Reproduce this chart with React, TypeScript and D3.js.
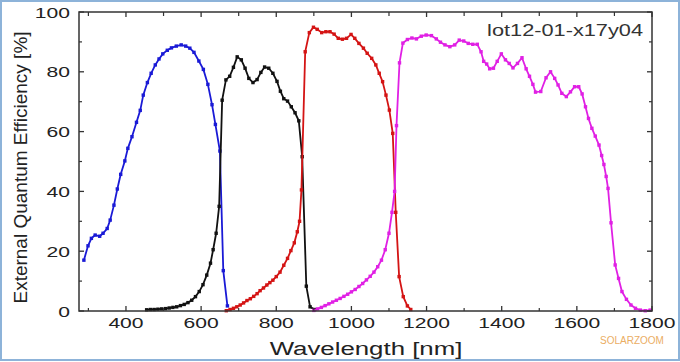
import React from "react";
import * as d3 from "d3";

// [wavelength nm, EQE %]
const blueSeries: [number, number][] = [
  [288, 17], [299, 21.8], [308, 24.3], [318, 25.4], [330, 25], [339, 26], [350, 27.6],
  [358, 30.4], [368, 35.4], [377, 40.8], [386, 45.7], [397, 50.2], [405, 54.4], [416, 58.3],
  [428, 63.1], [438, 67.1], [446, 72.2], [457, 76.4], [467, 79.5], [478, 82.3], [488, 84.3],
  [498, 86], [510, 87.2], [521, 88], [534, 88.6], [547, 89], [559, 88.6], [570, 87.9],
  [581, 86.5], [594, 83.6], [606, 80.8], [618, 75.8], [629, 69], [638, 62.4], [650, 53.5],
  [659, 13.5], [670, 1.7],
];

const blackSeries: [number, number][] = [
  [455, 0.4], [465, 0.5], [475, 0.5], [485, 0.6], [495, 0.7], [505, 0.8], [515, 1.0],
  [525, 1.2], [535, 1.4], [545, 1.8], [555, 2.2], [565, 2.8], [575, 3.6], [585, 4.8],
  [595, 6.5], [605, 8.8], [615, 12], [625, 16], [632, 20.5], [640, 26], [648, 35],
  [656, 70.5], [666, 77.3], [676, 78.5], [686, 81.5], [696, 85], [707, 84], [717, 81.2],
  [727, 77.8], [738, 76.4], [749, 77.4], [759, 79.8], [769, 81.6], [780, 81.2], [791, 79.5],
  [802, 76.8], [811, 73.5], [820, 71], [830, 70.2], [840, 68.3], [850, 66.3], [860, 63.6],
  [869, 51.6], [880, 8.3], [890, 1.4], [902, 0.5],
];

const redSeries: [number, number][] = [
  [667, 0.1], [677, 0.5], [686, 0.9], [695, 1.4], [704, 2], [713, 2.7], [722, 3.5],
  [731, 4.1], [740, 4.9], [749, 5.8], [757, 6.8], [766, 7.7], [775, 8.7], [783, 9.5],
  [791, 10.3], [800, 11.5], [810, 13], [820, 15.3], [830, 17.6], [839, 20.2], [848, 22.8],
  [856, 26.5], [862, 30], [867, 40.5], [877, 86.7], [888, 93.1], [899, 94.9], [909, 94.2],
  [921, 93.1], [932, 93.4], [943, 93.4], [954, 92.6], [965, 91.2], [976, 90.9], [987, 91.2],
  [999, 92.5], [1009, 91.2], [1020, 89.5], [1032, 87.9], [1042, 86.2], [1054, 84.5],
  [1065, 82.3], [1074, 79.5], [1083, 76.7], [1092, 72.2], [1101, 67.2], [1110, 59.4],
  [1118, 33], [1127, 11.5], [1138, 4.8], [1149, 1.7], [1158, 0.5],
];

const magentaSeries: [number, number][] = [
  [900, 0.2], [910, 0.7], [920, 1.2], [930, 1.8], [940, 2.4], [950, 3], [960, 3.6],
  [970, 4.2], [980, 4.9], [990, 5.6], [1000, 6.4], [1010, 7.2], [1020, 8.2], [1030, 9.2],
  [1040, 10.4], [1050, 11.6], [1060, 13], [1070, 14.8], [1080, 17], [1090, 20.5],
  [1100, 26], [1108, 33], [1115, 40], [1120, 62], [1128, 83], [1137, 89.6], [1149, 90.8],
  [1161, 91.3], [1173, 91], [1186, 91.9], [1199, 92.3], [1213, 92.1], [1226, 91],
  [1237, 89.9], [1249, 89], [1262, 88.4], [1275, 89], [1287, 90.6], [1299, 90.3],
  [1311, 89.5], [1323, 89.2], [1335, 89.2], [1345, 86.7], [1352, 83.5], [1360, 82.6],
  [1368, 81], [1378, 81.2], [1388, 83.5], [1399, 86], [1410, 84], [1420, 82.8],
  [1430, 81.3], [1442, 82.8], [1454, 84.7], [1465, 81], [1474, 78.5], [1483, 75.8],
  [1490, 73.2], [1504, 73.4], [1518, 78], [1530, 80], [1541, 77.8], [1550, 75.6],
  [1560, 72.8], [1572, 71.7], [1583, 73.3], [1594, 75], [1605, 75], [1614, 72.6],
  [1623, 68.3], [1631, 64.4], [1640, 61.1], [1649, 58.5], [1659, 55.5], [1666, 52],
  [1672, 49], [1678, 45], [1683, 41], [1691, 29.5], [1702, 15.4], [1711, 10.9],
  [1720, 6.5], [1732, 3.9], [1744, 2], [1756, 0.9], [1769, 0.3], [1782, 0.1], [1795, 0.3],
];

const xTickLabels = [400, 600, 800, 1000, 1200, 1400, 1600, 1800];
const xMinorTicks = [300, 500, 700, 900, 1100, 1300, 1500, 1700];
const yTickLabels = [0, 20, 40, 60, 80, 100];
const yMinorTicks = [10, 30, 50, 70, 90];

const series = [
  { data: blueSeries, color: "#1a1ad6" },
  { data: blackSeries, color: "#111111" },
  { data: redSeries, color: "#d41414" },
  { data: magentaSeries, color: "#e020e4" },
];

const W = 680;
const H = 362;
const left = 79, right = 652, top = 12, bottom = 311;
const sx = 1.36; // horizontal text in the source is stretched
const font = "'Liberation Sans', Arial, sans-serif";

export default function App() {
  const x = d3.scaleLinear().domain([275, 1800]).range([left, right]);
  const y = d3.scaleLinear().domain([0, 100]).range([bottom, top]);
  const line = d3
    .line<[number, number]>()
    .x((d) => x(d[0]))
    .y((d) => y(d[1]));

  const axisColor = "#333";

  return (
    <div style={{ position: "absolute", left: 0, top: 0 }}>
      <svg width={W} height={H} style={{ display: "block", background: "#fff" }}>
        <rect x={1} y={1} width={W - 2} height={H - 3} fill="#fff" stroke="#8db3d9" strokeWidth={2} />

        {/* curves */}
        {series.map((s, i) => (
          <g key={i}>
            <path d={line(s.data) || ""} fill="none" stroke={s.color} strokeWidth={1.8} />
            {s.data.map((d, j) => (
              <rect key={j} x={x(d[0]) - 1.7} y={y(d[1]) - 1.7} width={3.4} height={3.4} fill={s.color} />
            ))}
          </g>
        ))}

        {/* frame */}
        <rect x={left} y={top} width={right - left} height={bottom - top} fill="none" stroke={axisColor} strokeWidth={1.5} />

        {/* x ticks bottom & top */}
        {xTickLabels.map((t) => (
          <g key={"xt" + t}>
            <line x1={x(t)} x2={x(t)} y1={bottom} y2={bottom - 5} stroke={axisColor} strokeWidth={1.3} />
            <line x1={x(t)} x2={x(t)} y1={top} y2={top + 5} stroke={axisColor} strokeWidth={1.3} />
            <text
              transform={`translate(${x(t)},${328}) scale(${sx},1)`}
              textAnchor="middle"
              fontFamily={font}
              fontSize={15.5}
              fill="#222"
            >
              {t}
            </text>
          </g>
        ))}
        {xMinorTicks.map((t) => (
          <g key={"xm" + t}>
            <line x1={x(t)} x2={x(t)} y1={bottom} y2={bottom - 3} stroke={axisColor} strokeWidth={1.2} />
            <line x1={x(t)} x2={x(t)} y1={top} y2={top + 4} stroke={axisColor} strokeWidth={1.2} />
          </g>
        ))}

        {/* y ticks left & right */}
        {yTickLabels.map((t) => (
          <g key={"yt" + t}>
            <line x1={left} x2={left + 5} y1={y(t)} y2={y(t)} stroke={axisColor} strokeWidth={1.3} />
            <line x1={right} x2={right - 5} y1={y(t)} y2={y(t)} stroke={axisColor} strokeWidth={1.3} />
            <text
              transform={`translate(${70},${y(t) + 5.5}) scale(${sx},1)`}
              textAnchor="end"
              fontFamily={font}
              fontSize={15.5}
              fill="#222"
            >
              {t}
            </text>
          </g>
        ))}
        {yMinorTicks.map((t) => (
          <g key={"ym" + t}>
            <line x1={left} x2={left + 3} y1={y(t)} y2={y(t)} stroke={axisColor} strokeWidth={1.2} />
            <line x1={right} x2={right - 3} y1={y(t)} y2={y(t)} stroke={axisColor} strokeWidth={1.2} />
          </g>
        ))}

        {/* axis titles */}
        <text
          transform={`translate(${366},${355}) scale(${sx},1)`}
          textAnchor="middle"
          fontFamily={font}
          fontSize={19}
          fill="#222"
        >
          Wavelength [nm]
        </text>
        <text
          transform={`translate(${26.5},${167.5}) rotate(-90)`}
          textAnchor="middle"
          fontFamily={font}
          fontSize={19}
          fill="#222"
        >
          External Quantum Efficiency [%]
        </text>

        {/* sample label */}
        <text
          transform={`translate(${643},${36}) scale(${sx},1)`}
          textAnchor="end"
          fontFamily={font}
          fontSize={16}
          fill="#333"
        >
          lot12-01-x17y04
        </text>

        {/* watermark */}
        <text x={600} y={344} fontFamily={font} fontSize={10} fill="#e8a048" opacity={0.85}>
          SOLARZOOM
        </text>
      </svg>
    </div>
  );
}
